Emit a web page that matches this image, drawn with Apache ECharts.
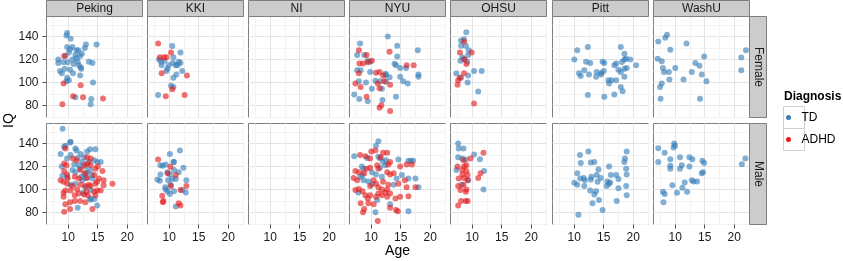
<!DOCTYPE html>
<html><head><meta charset="utf-8">
<script src="https://cdn.jsdelivr.net/npm/echarts@6/dist/echarts.min.js"></script>
<style>html,body{margin:0;padding:0;background:#fff}#c{width:843px;height:261px}</style>
</head><body><div id="c"></div>
<script>
// ---- categories & ticks ----
const sites = ['Peking','KKI','NI','NYU','OHSU','Pitt','WashU'];
const sexes = ['Female','Male'];
const diagnoses = ['TD','ADHD'];
const xTicks = [10,15,20];
const xMinorTicks = [7.5,12.5,17.5,22.5];
const yTicks = [80,100,120,140];
const yMinorTicks = [70,90,110,130,150];

// ---- data: [age, IQ] ----
const pekingFemaleTD = [[9.8,143],[9.7,141],[10.4,138],[13.0,133],[14.8,133],[12.8,130],[9.8,131],[10.7,131],[11.4,128],[11.7,128],[10.1,126],[11.2,124],[12.0,123],[8.3,120],[9.2,117.5],[9.9,117.5],[8.3,117],[10.7,120],[11.6,118],[13.5,118],[14.1,117],[11.8,115],[12.1,113],[9.4,112],[8.6,110],[10.3,111],[8.9,108],[10.8,108],[9.8,104],[12.0,106],[9.7,101],[10.1,102],[14.2,100],[11.2,87],[13.9,85.5],[13.8,81],[10.9,116],[12.2,112],[11.4,121],[9.5,123],[10.3,129],[12.3,125]];
const pekingFemaleADHD = [[9.3,123],[9.2,99],[12.1,97.6],[10.8,88],[12.5,87],[15.9,86],[9.0,81]];
const kkiFemaleTD = [[10.5,131.7],[11.9,126],[8.25,120],[10.7,122],[11.6,118],[10.6,117],[11.1,115],[8.7,115],[9.9,115],[9.5,110],[11.2,107],[12.2,110],[10.7,104],[10.3,97],[10.7,96],[8.1,89],[11.9,117],[9.2,119],[8.6,118],[9.7,112],[11.4,115]];
const kkiFemaleADHD = [[8.1,134],[10.3,126],[8.4,122],[9.1,122],[9.5,122],[8.7,108],[13.0,106],[10.5,94],[9.4,88],[12.6,89]];
const nyuFemaleTD = [[12.8,140],[8.1,134],[14.4,132],[17.9,128],[14.4,122.7],[7.6,124],[8.8,124],[9.8,118],[9.4,119],[13.95,116.3],[14.2,115],[14.9,112.6],[15.9,112.6],[7.6,110.6],[8.2,110.6],[9.8,109],[12.4,107.5],[12.5,106.5],[13.1,104.6],[14.9,105],[18.0,107],[18.0,105],[7.9,101],[9.1,100],[10.7,101.5],[11.5,101],[12.5,100.5],[16.2,99],[15.4,101],[10.1,94.5],[11.8,94.5],[7.1,89.5],[7.97,85.6],[9.4,83.6],[14.2,87.5],[11.9,84.6]];
const nyuFemaleADHD = [[7.9,128],[13.1,126.8],[9.2,124],[10.1,119],[9.4,117.5],[8.0,116.5],[8.6,116.5],[16.0,115],[17.2,115],[7.9,108],[10.8,108.5],[11.4,109],[12.0,106],[7.3,99],[8.2,96],[11.1,99],[11.4,95],[12.2,101],[13.2,98],[9.2,87.5],[11.4,78],[11.7,80],[13.2,75]];
const ohsuFemaleTD = [[8.98,143.8],[8.1,136.5],[8.6,137.7],[8.1,132],[8.9,132],[9.4,128],[9.3,124],[8.3,122],[8.6,120.4],[8.0,119],[9.15,118],[10.3,110],[11.6,110],[7.3,107.7],[8.1,104],[9.3,106],[9.2,100],[11.0,92]];
const ohsuFemaleADHD = [[8.6,135.7],[7.9,126],[9.9,126],[8.7,120],[9.0,116],[8.6,108],[7.6,102],[7.9,104],[7.5,98],[10.3,81.7]];
const pittFemaleTD = [[12.3,130.8],[17.9,130.8],[10.5,128],[18.5,125],[18.8,120.7],[18.1,117.8],[18.5,120],[19.5,120],[10.0,120],[12.0,118],[12.7,117],[14.8,118],[15.1,117],[17.1,116.4],[16.8,115],[20.5,115],[18.9,112.6],[18.5,112],[11.7,110.6],[17.5,111],[13.8,109],[14.6,108.3],[15.0,110],[10.8,108],[11.1,105.6],[12.5,107],[13.7,105],[14.5,107],[17.9,109],[18.5,105],[15.8,102],[16.3,102],[15.9,99],[17.1,102],[15.1,87.5],[12.3,89],[16.8,89.5],[17.9,96],[18.2,92.4]];
const washuFemaleTD = [[8.6,141.5],[8.3,139],[7.1,135.7],[11.9,134],[9.15,128.5],[14.9,122.7],[22.0,128],[21.2,121.8],[7.0,120.7],[7.7,118.4],[13.4,117],[14.1,114.6],[7.9,112.6],[8.1,109],[10.0,112.6],[8.9,109],[12.8,109],[14.5,107],[21.2,110.6],[9.0,102.5],[11.4,102.5],[15.3,101],[7.7,99],[7.4,96],[7.5,85.8],[14.2,85.8]];
const pekingMaleTD = [[9.04,153],[10.3,141],[10.4,141.5],[9.3,137],[9.5,138],[8.7,131],[11.2,135.6],[11.4,134],[13.7,135],[14.6,135],[13.2,133],[12.1,131],[12.7,128],[11.6,127.5],[9.8,127],[10.4,130],[12.4,124],[13.5,124],[14.4,125.5],[14.9,124],[11.0,122],[11.8,121],[12.9,120],[9.0,112],[9.8,111],[10.7,117],[11.2,115],[13.2,115],[14.0,112.5],[12.7,113],[13.7,117],[12.4,108],[14.1,109.5],[11.2,105],[10.4,104],[12.9,102],[13.8,99.4],[12.5,97],[13.7,92],[14.9,86],[11.6,84],[13.8,91],[14.4,91.6],[15.5,124],[8.9,120],[11.9,118],[13.0,110],[12.2,111]];
const pekingMaleADHD = [[9.5,135.6],[10.8,127],[11.4,125.5],[13.2,128],[13.8,127],[15.0,120],[14.6,118],[15.8,116],[9.3,116],[9.8,113],[9.3,122.6],[9.7,121],[11.1,111],[11.8,109.5],[13.2,110],[14.4,112.5],[14.9,106.6],[14.6,105],[13.5,104],[13.8,103],[12.9,103],[17.5,105],[16.0,103.7],[9.2,106.6],[9.8,105],[10.7,103],[12.1,104],[11.5,100],[9.2,97],[9.5,99],[9.2,93.6],[10.4,99],[11.1,95],[11.8,96.5],[12.7,95.6],[13.1,98],[13.3,95],[14.9,99],[14.4,98],[14.6,95],[9.5,87],[10.3,88.7],[11.1,90],[9.3,80.5],[10.3,83],[12.0,90],[12.9,88.7],[14.1,83],[15.5,99],[16.0,108],[15.2,109.5],[9.9,109.5],[8.7,108],[12.7,121],[13.3,122.6],[12.1,117],[12.9,114],[13.8,121]];
const kkiMaleTD = [[10.1,131],[11.8,134],[10.7,124],[10.8,124],[12.4,119],[8.5,121],[8.9,120.6],[9.4,121.7],[10.8,117],[11.6,115],[9.7,115],[10.1,113],[8.0,108.7],[8.4,107.5],[9.8,108],[10.5,109],[11.1,109],[12.9,108],[9.3,102],[10.2,104],[9.7,98.5],[10.1,96],[10.8,98.5],[12.2,99.4],[12.8,97.4],[11.1,85],[9.4,100],[8.5,113]];
const kkiMaleADHD = [[8.1,126],[10.2,119.7],[11.1,112.5],[10.3,103],[11.9,99.4],[12.9,103],[8.8,94.5],[9.0,90],[8.9,88.7],[11.6,88],[11.9,86],[9.7,114]];
const nyuMaleTD = [[11.2,142],[10.8,138],[7.1,129],[9.3,127.5],[11.2,128.4],[11.5,127],[14.6,126],[16.3,125],[16.7,125],[17.1,125],[12.5,125.5],[12.4,121],[8.4,120],[8.7,118],[12.0,124],[11.5,119],[10.1,115],[8.1,111],[8.5,112.5],[8.7,108],[9.5,107],[10.8,113],[11.8,111],[14.3,109.5],[15.2,112.5],[16.3,109.5],[17.5,109.5],[13.8,104],[18.0,102],[10.1,104.3],[7.8,97.4],[11.0,90.7],[13.2,87],[10.7,80],[16.3,81]];
const nyuMaleADHD = [[10.0,133],[10.7,134],[8.1,130],[9.0,129],[12.0,132],[12.7,132],[9.8,127],[11.6,128],[13.2,124],[12.9,121.7],[14.9,120],[16.0,121.7],[16.9,121.7],[7.3,116],[7.9,115],[7.0,110],[7.6,108],[9.2,118],[9.8,119],[8.8,114],[11.0,121],[11.2,118],[12.7,115],[13.2,113],[13.8,114],[10.4,108],[10.8,105],[9.8,103],[12.0,106.6],[12.9,104],[12.7,100],[11.2,102],[11.8,100],[12.4,97.4],[15.7,108],[16.0,102],[17.5,102],[14.6,105],[7.3,99.4],[7.9,100.3],[8.5,98.5],[9.0,95],[9.4,92],[9.8,95],[11.2,96.5],[11.8,95],[10.8,93.6],[12.7,93.6],[13.2,96.5],[14.1,92],[14.9,93.6],[16.3,94],[8.2,88],[9.5,88],[10.4,87],[13.2,84],[14.2,82],[14.5,81],[8.6,80],[8.8,83],[11.1,72.4]];
const ohsuMaleTD = [[7.6,140],[8.5,135.6],[7.7,135.6],[7.6,128],[8.3,127],[8.9,126],[10.3,130.4],[11.3,126.4],[7.3,117],[8.2,104],[11.9,100],[9.3,108],[12.0,116]];
const ohsuMaleADHD = [[11.9,132],[9.7,127],[8.5,125.5],[8.6,120],[9.0,121],[7.5,120],[8.3,117],[9.0,116],[8.3,113],[9.2,112.5],[11.4,114],[11.0,110],[7.7,109.5],[8.6,110],[9.2,108],[7.6,103],[8.5,104],[8.0,99.4],[8.9,98],[9.0,100],[8.9,90],[9.2,90],[8.1,90],[7.6,86]];
const pittMaleTD = [[12.4,133],[10.96,130],[18.9,133],[13.4,124],[12.8,123.5],[11.1,123],[18.6,127],[18.5,124],[18.8,118],[15.9,120],[14.1,117.4],[10.5,114],[18.9,113],[13.8,112.5],[14.5,110],[12.9,111],[12.8,108.7],[17.1,112.5],[17.5,109],[11.0,109.5],[11.6,110],[11.8,108],[16.2,112.5],[10.0,105.8],[10.5,104],[11.7,103],[13.96,106.6],[15.6,107],[15.9,105],[16.1,106],[15.5,103],[17.5,101],[18.8,103],[12.7,99],[13.4,95.6],[13.7,98.5],[18.9,95],[13.1,88],[14.2,90.7],[17.2,89.8],[14.8,82],[10.7,78]];
const washuMaleTD = [[9.8,140],[9.95,138],[9.7,136.5],[7.1,136],[8.2,132],[10.8,128],[12.4,128],[12.9,126.4],[9.15,126.4],[7.1,124],[14.6,125],[14.9,123],[9.15,120.6],[11.1,121],[12.4,120],[10.8,118],[9.15,118],[21.9,127],[21.3,122],[14.7,115],[14.5,114],[12.8,108],[13.1,107],[13.7,107],[9.5,103.7],[11.6,106],[11.2,101.4],[7.9,98],[8.2,96],[10.3,97],[12.0,98],[8.0,88.7]];

// panel table [sex][site] -> [TD, ADHD]
const panelData = [
  [[pekingFemaleTD,pekingFemaleADHD],[kkiFemaleTD,kkiFemaleADHD],[[],[]],[nyuFemaleTD,nyuFemaleADHD],[ohsuFemaleTD,ohsuFemaleADHD],[pittFemaleTD,[]],[washuFemaleTD,[]]],
  [[pekingMaleTD,pekingMaleADHD],[kkiMaleTD,kkiMaleADHD],[[],[]],[nyuMaleTD,nyuMaleADHD],[ohsuMaleTD,ohsuMaleADHD],[pittMaleTD,[]],[washuMaleTD,[]]]
];

const colors = {TD:'#377EB8', ADHD:'#E41A1C'};
const FONT = 'Liberation Sans, Arial, Helvetica, sans-serif';
const X_MIN = 6.3, X_MAX = 22.6, Y_MIN = 69.4, Y_MAX = 157.5;
const colLeft = c => Math.round(46 + c*101.1) + 0.5;
const PW = 96;
const rowTop = [16.5, 123.5];
const PH = 101;

const grids = [], xAxes = [], yAxes = [], series = [], graphics = [];
sexes.forEach((sex, r) => {
  sites.forEach((site, c) => {
    const g = grids.length;
    grids.push({left: colLeft(c), top: rowTop[r], width: PW, height: PH, show: true,
      backgroundColor: '#fff', borderColor: '#7f7f7f', borderWidth: 1, containLabel: false});
    const isBottom = r === 1, isLeft = c === 0;
    xAxes.push({type:'value', gridIndex:g, min:X_MIN, max:X_MAX, position:'bottom',
      axisLine:{show:false},
      axisTick:{show:isBottom, length:4, lineStyle:{color:'#4d4d4d'}, customValues:xTicks},
      axisLabel:{show:isBottom, customValues:xTicks, margin:7, fontSize:12, color:'#1a1a1a', fontFamily:FONT},
      splitLine:{show:true, lineStyle:{color:'#e3e3e3', width:1}}});
    xAxes.push({type:'value', gridIndex:g, min:X_MIN, max:X_MAX, position:'top',
      axisLine:{show:false}, axisTick:{show:false, customValues:xMinorTicks},
      axisLabel:{show:false, customValues:xMinorTicks},
      splitLine:{show:true, lineStyle:{color:'#f3f3f3', width:1}}});
    yAxes.push({type:'value', gridIndex:g, min:Y_MIN, max:Y_MAX, position:'left',
      axisLine:{show:false},
      axisTick:{show:isLeft, length:4, lineStyle:{color:'#4d4d4d'}, customValues:yTicks},
      axisLabel:{show:isLeft, customValues:yTicks, margin:8, fontSize:12, color:'#1a1a1a', fontFamily:FONT},
      splitLine:{show:true, lineStyle:{color:'#e3e3e3', width:1}}});
    yAxes.push({type:'value', gridIndex:g, min:Y_MIN, max:Y_MAX, position:'right',
      axisLine:{show:false}, axisTick:{show:false, customValues:yMinorTicks},
      axisLabel:{show:false, customValues:yMinorTicks},
      splitLine:{show:true, lineStyle:{color:'#f3f3f3', width:1}}});
    diagnoses.forEach((d, k) => {
      series.push({type:'scatter', name:d, xAxisIndex:2*g, yAxisIndex:2*g, symbol:'circle', symbolSize:6,
        itemStyle:{color:colors[d], opacity:0.62}, emphasis:{disabled:true}, silent:true,
        data: panelData[r][c][k]});
    });
    // top strips
    if (r === 0) {
      graphics.push({type:'rect', z:5, shape:{x:colLeft(c), y:0.5, width:PW, height:16},
        style:{fill:'#cccccc', stroke:'#7f7f7f', lineWidth:1}});
      graphics.push({type:'text', z:6, x:colLeft(c)+PW/2, y:9,
        style:{text:site, x:0, y:0, align:'center', verticalAlign:'middle', textAlign:'center', textVerticalAlign:'middle',
          font:'12px ' + FONT, fill:'#1a1a1a'}});
    }
  });
  // right strip
  const sx = colLeft(6) + PW;
  graphics.push({type:'rect', z:5, shape:{x:sx, y:rowTop[r], width:17, height:PH},
    style:{fill:'#cccccc', stroke:'#7f7f7f', lineWidth:1}});
  graphics.push({type:'text', z:6, x:sx+8.5, y:rowTop[r]+PH/2, rotation:-Math.PI/2,
    style:{text:sex, x:0, y:0, align:'center', verticalAlign:'middle', textAlign:'center', textVerticalAlign:'middle',
      font:'12px ' + FONT, fill:'#1a1a1a'}});
});

// axis titles
graphics.push({type:'text', x:9, y:120.5, rotation:Math.PI/2,
  style:{text:'IQ', x:0, y:0, align:'center', verticalAlign:'middle', textAlign:'center', textVerticalAlign:'middle',
    font:'14px ' + FONT, fill:'#000'}});
graphics.push({type:'text', x:397.5, y:251,
  style:{text:'Age', x:0, y:0, align:'center', verticalAlign:'middle', textAlign:'center', textVerticalAlign:'middle',
    font:'14px ' + FONT, fill:'#000'}});
// legend title & key boxes
graphics.push({type:'text', x:784, y:97,
  style:{text:'Diagnosis', x:0, y:0, align:'left', verticalAlign:'middle', textAlign:'left', textVerticalAlign:'middle',
    font:'bold 12px ' + FONT, fill:'#000'}});
[0,1].forEach(i => graphics.push({type:'rect', z:0, shape:{x:783.5, y:106.5 + i*22, width:21, height:22},
  style:{fill:'#ffffff', stroke:'#d0d0d0', lineWidth:1}}));

const chart = echarts.init(document.getElementById('c'), null, {renderer:'canvas'});
chart.setOption({
  animation:false,
  backgroundColor:'#fff',
  grid: grids, xAxis: xAxes, yAxis: yAxes, series: series,
  legend: {data: diagnoses, orient:'vertical', left:786, top:111.5, padding:0, itemGap:10,
    itemWidth:16, itemHeight:5, icon:'circle', selectedMode:false, z:10,
    itemStyle:{opacity:1},
    textStyle:{fontSize:12, color:'#000', fontFamily:FONT, padding:[0,0,0,0]}},
  graphic: {elements: graphics}
});
</script>
</body></html>
